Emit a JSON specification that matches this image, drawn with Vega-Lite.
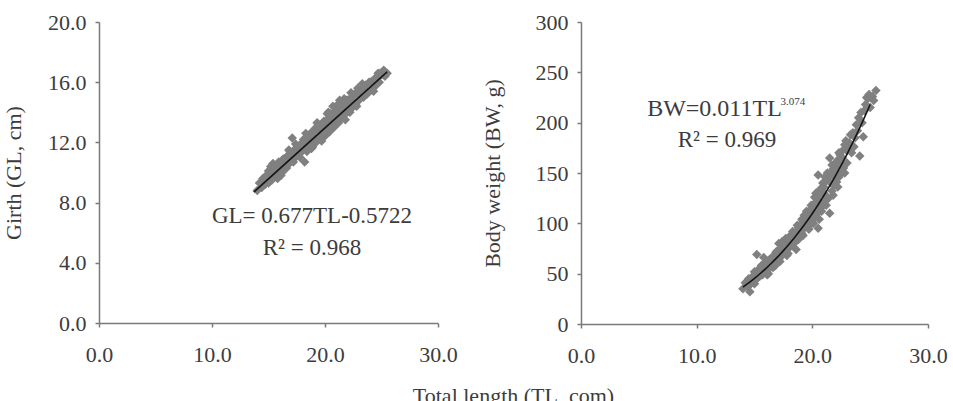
{
  "$schema": "https://vega.github.io/schema/vega-lite/v6.json",
  "autosize": {"type": "none"},
  "padding": {"left": 99, "top": 22, "right": 854, "bottom": 379},
  "background": "white",
  "bounds": "flush",
  "spacing": 143,
  "config": {
    "view": {"stroke": null},
    "font": "Liberation Serif",
    "axis": {
      "grid": false,
      "domainColor": "#7a7a7a",
      "domainWidth": 1.5,
      "tickColor": "#7a7a7a",
      "tickWidth": 1.5,
      "tickSize": 4,
      "labelColor": "#3c3c3c",
      "titleColor": "#3c3c3c",
      "labelFont": "Liberation Serif",
      "titleFont": "Liberation Serif",
      "labelFontSize": 22,
      "titleFontSize": 22,
      "titleFontWeight": "normal",
      "labelFlush": false,
      "labelOverlap": false
    },
    "text": {"font": "Liberation Serif", "color": "#3c3c3c"}
  },
  "datasets": {
    "fish": [
      {"TL": 14.0, "GL": 8.8, "BW": 35}, {"TL": 14.2, "GL": 9.3, "BW": 41}, {"TL": 14.4, "GL": 9.0, "BW": 37},
      {"TL": 14.5, "GL": 9.6, "BW": 45}, {"TL": 14.6, "GL": 9.5, "BW": 32}, {"TL": 14.7, "GL": 9.2, "BW": 40},
      {"TL": 14.8, "GL": 9.8, "BW": 47}, {"TL": 15.0, "GL": 10.1, "BW": 52}, {"TL": 15.0, "GL": 9.3, "BW": 40},
      {"TL": 15.1, "GL": 9.4, "BW": 44}, {"TL": 15.2, "GL": 10.0, "BW": 50}, {"TL": 15.2, "GL": 10.4, "BW": 69},
      {"TL": 15.3, "GL": 9.5, "BW": 46}, {"TL": 15.4, "GL": 10.3, "BW": 55}, {"TL": 15.4, "GL": 10.6, "BW": 52},
      {"TL": 15.5, "GL": 9.7, "BW": 48}, {"TL": 15.6, "GL": 10.2, "BW": 58}, {"TL": 15.6, "GL": 9.9, "BW": 54},
      {"TL": 15.7, "GL": 9.8, "BW": 49}, {"TL": 15.8, "GL": 10.5, "BW": 56}, {"TL": 15.8, "GL": 9.6, "BW": 66},
      {"TL": 15.9, "GL": 10.0, "BW": 52}, {"TL": 15.9, "GL": 10.7, "BW": 60}, {"TL": 16.0, "GL": 10.6, "BW": 62},
      {"TL": 16.0, "GL": 10.3, "BW": 57}, {"TL": 16.1, "GL": 10.1, "BW": 53}, {"TL": 16.1, "GL": 9.8, "BW": 49},
      {"TL": 16.2, "GL": 10.7, "BW": 60}, {"TL": 16.2, "GL": 10.0, "BW": 50}, {"TL": 16.3, "GL": 10.3, "BW": 56},
      {"TL": 16.3, "GL": 10.9, "BW": 64}, {"TL": 16.4, "GL": 10.9, "BW": 65}, {"TL": 16.4, "GL": 10.6, "BW": 62},
      {"TL": 16.5, "GL": 10.4, "BW": 58}, {"TL": 16.6, "GL": 11.0, "BW": 66}, {"TL": 16.6, "GL": 10.3, "BW": 56},
      {"TL": 16.7, "GL": 10.5, "BW": 61}, {"TL": 16.8, "GL": 11.2, "BW": 70}, {"TL": 16.8, "GL": 11.5, "BW": 58},
      {"TL": 16.9, "GL": 10.7, "BW": 63}, {"TL": 16.9, "GL": 11.4, "BW": 72}, {"TL": 17.0, "GL": 11.3, "BW": 72},
      {"TL": 17.0, "GL": 11.0, "BW": 68}, {"TL": 17.1, "GL": 10.8, "BW": 64}, {"TL": 17.1, "GL": 12.3, "BW": 80},
      {"TL": 17.2, "GL": 11.4, "BW": 74}, {"TL": 17.2, "GL": 10.7, "BW": 62}, {"TL": 17.3, "GL": 11.0, "BW": 67},
      {"TL": 17.4, "GL": 11.6, "BW": 76}, {"TL": 17.4, "GL": 11.9, "BW": 82}, {"TL": 17.5, "GL": 11.1, "BW": 70},
      {"TL": 17.5, "GL": 11.5, "BW": 75}, {"TL": 17.6, "GL": 11.7, "BW": 78}, {"TL": 17.7, "GL": 11.2, "BW": 72},
      {"TL": 17.7, "GL": 11.7, "BW": 85}, {"TL": 17.8, "GL": 11.8, "BW": 80}, {"TL": 17.8, "GL": 11.0, "BW": 68},
      {"TL": 17.9, "GL": 11.4, "BW": 75}, {"TL": 17.9, "GL": 11.9, "BW": 70}, {"TL": 18.0, "GL": 12.0, "BW": 84},
      {"TL": 18.0, "GL": 11.7, "BW": 82}, {"TL": 18.1, "GL": 11.5, "BW": 77}, {"TL": 18.1, "GL": 12.2, "BW": 88},
      {"TL": 18.2, "GL": 12.1, "BW": 86}, {"TL": 18.2, "GL": 10.7, "BW": 78}, {"TL": 18.3, "GL": 11.6, "BW": 80},
      {"TL": 18.3, "GL": 12.6, "BW": 92}, {"TL": 18.4, "GL": 12.2, "BW": 90}, {"TL": 18.4, "GL": 11.4, "BW": 80},
      {"TL": 18.5, "GL": 11.7, "BW": 82}, {"TL": 18.6, "GL": 12.4, "BW": 74}, {"TL": 18.6, "GL": 12.0, "BW": 88},
      {"TL": 18.7, "GL": 11.8, "BW": 93}, {"TL": 18.7, "GL": 12.6, "BW": 98}, {"TL": 18.8, "GL": 12.5, "BW": 96},
      {"TL": 18.8, "GL": 11.6, "BW": 84}, {"TL": 18.9, "GL": 12.0, "BW": 88}, {"TL": 18.9, "GL": 11.7, "BW": 95},
      {"TL": 19.0, "GL": 12.7, "BW": 99}, {"TL": 19.0, "GL": 12.4, "BW": 96}, {"TL": 19.1, "GL": 12.1, "BW": 90},
      {"TL": 19.1, "GL": 12.9, "BW": 104}, {"TL": 19.2, "GL": 12.8, "BW": 103}, {"TL": 19.2, "GL": 12.0, "BW": 88},
      {"TL": 19.3, "GL": 12.2, "BW": 95}, {"TL": 19.3, "GL": 13.3, "BW": 108}, {"TL": 19.4, "GL": 12.9, "BW": 106},
      {"TL": 19.4, "GL": 13.2, "BW": 98}, {"TL": 19.5, "GL": 12.4, "BW": 97}, {"TL": 19.5, "GL": 13.0, "BW": 112},
      {"TL": 19.6, "GL": 13.1, "BW": 110}, {"TL": 19.6, "GL": 12.8, "BW": 104}, {"TL": 19.7, "GL": 12.5, "BW": 100},
      {"TL": 19.7, "GL": 12.1, "BW": 94}, {"TL": 19.8, "GL": 13.2, "BW": 113}, {"TL": 19.8, "GL": 12.3, "BW": 98},
      {"TL": 19.9, "GL": 12.6, "BW": 103}, {"TL": 19.9, "GL": 13.4, "BW": 118}, {"TL": 20.0, "GL": 13.3, "BW": 117},
      {"TL": 20.0, "GL": 13.0, "BW": 112}, {"TL": 20.1, "GL": 12.8, "BW": 105}, {"TL": 20.1, "GL": 12.5, "BW": 100},
      {"TL": 20.2, "GL": 13.5, "BW": 120}, {"TL": 20.2, "GL": 13.9, "BW": 126}, {"TL": 20.3, "GL": 12.9, "BW": 108},
      {"TL": 20.3, "GL": 14.0, "BW": 130}, {"TL": 20.4, "GL": 13.6, "BW": 124}, {"TL": 20.4, "GL": 12.7, "BW": 110},
      {"TL": 20.5, "GL": 13.0, "BW": 95}, {"TL": 20.5, "GL": 13.9, "BW": 148}, {"TL": 20.6, "GL": 13.8, "BW": 128},
      {"TL": 20.6, "GL": 13.4, "BW": 121}, {"TL": 20.6, "GL": 13.0, "BW": 104}, {"TL": 20.7, "GL": 13.2, "BW": 115},
      {"TL": 20.7, "GL": 14.4, "BW": 134}, {"TL": 20.8, "GL": 13.9, "BW": 132}, {"TL": 20.8, "GL": 13.0, "BW": 112},
      {"TL": 20.9, "GL": 13.3, "BW": 119}, {"TL": 20.9, "GL": 14.0, "BW": 140}, {"TL": 21.0, "GL": 14.0, "BW": 136},
      {"TL": 21.0, "GL": 13.7, "BW": 130}, {"TL": 21.1, "GL": 13.4, "BW": 122}, {"TL": 21.1, "GL": 14.5, "BW": 146},
      {"TL": 21.2, "GL": 14.2, "BW": 142}, {"TL": 21.2, "GL": 13.3, "BW": 118}, {"TL": 21.3, "GL": 13.6, "BW": 126},
      {"TL": 21.3, "GL": 14.8, "BW": 150}, {"TL": 21.4, "GL": 14.3, "BW": 146}, {"TL": 21.4, "GL": 13.6, "BW": 125},
      {"TL": 21.5, "GL": 13.7, "BW": 110}, {"TL": 21.5, "GL": 14.3, "BW": 165}, {"TL": 21.6, "GL": 14.5, "BW": 150},
      {"TL": 21.6, "GL": 14.1, "BW": 140}, {"TL": 21.7, "GL": 13.8, "BW": 132}, {"TL": 21.7, "GL": 14.9, "BW": 158},
      {"TL": 21.8, "GL": 14.6, "BW": 154}, {"TL": 21.8, "GL": 13.5, "BW": 128}, {"TL": 21.9, "GL": 14.0, "BW": 138},
      {"TL": 21.9, "GL": 14.8, "BW": 146}, {"TL": 22.0, "GL": 14.8, "BW": 160}, {"TL": 22.0, "GL": 14.4, "BW": 152},
      {"TL": 22.1, "GL": 14.1, "BW": 141}, {"TL": 22.1, "GL": 14.7, "BW": 156}, {"TL": 22.2, "GL": 14.9, "BW": 163},
      {"TL": 22.2, "GL": 14.0, "BW": 136}, {"TL": 22.3, "GL": 14.3, "BW": 146}, {"TL": 22.3, "GL": 15.3, "BW": 170},
      {"TL": 22.4, "GL": 15.0, "BW": 168}, {"TL": 22.4, "GL": 14.3, "BW": 158}, {"TL": 22.5, "GL": 14.4, "BW": 150},
      {"TL": 22.6, "GL": 15.2, "BW": 172}, {"TL": 22.6, "GL": 14.6, "BW": 165}, {"TL": 22.7, "GL": 14.5, "BW": 155},
      {"TL": 22.8, "GL": 15.3, "BW": 178}, {"TL": 22.8, "GL": 14.4, "BW": 150}, {"TL": 22.9, "GL": 15.6, "BW": 182},
      {"TL": 23.0, "GL": 14.8, "BW": 160}, {"TL": 23.0, "GL": 15.2, "BW": 172}, {"TL": 23.1, "GL": 14.9, "BW": 175},
      {"TL": 23.2, "GL": 15.5, "BW": 180}, {"TL": 23.3, "GL": 15.9, "BW": 188}, {"TL": 23.4, "GL": 15.0, "BW": 170},
      {"TL": 23.5, "GL": 15.6, "BW": 190}, {"TL": 23.6, "GL": 15.8, "BW": 176}, {"TL": 23.7, "GL": 15.2, "BW": 185},
      {"TL": 23.8, "GL": 15.3, "BW": 198}, {"TL": 23.9, "GL": 16.0, "BW": 192}, {"TL": 24.0, "GL": 16.0, "BW": 205},
      {"TL": 24.1, "GL": 15.5, "BW": 167}, {"TL": 24.2, "GL": 16.1, "BW": 210}, {"TL": 24.3, "GL": 15.4, "BW": 200},
      {"TL": 24.4, "GL": 15.7, "BW": 186}, {"TL": 24.5, "GL": 16.2, "BW": 212}, {"TL": 24.6, "GL": 16.4, "BW": 218},
      {"TL": 24.7, "GL": 16.6, "BW": 225}, {"TL": 24.8, "GL": 16.0, "BW": 224}, {"TL": 24.9, "GL": 16.6, "BW": 228},
      {"TL": 25.0, "GL": 16.5, "BW": 215}, {"TL": 25.2, "GL": 16.8, "BW": 226}, {"TL": 25.3, "GL": 16.4, "BW": 222},
      {"TL": 25.5, "GL": 16.6, "BW": 232}
    ],
    "linear_fit": [
      {"TL": 13.7, "GL": 8.70},
      {"TL": 25.5, "GL": 16.69}
    ],
    "power_fit": [
      {"TL": 14.0, "BW": 36.70}, {"TL": 14.5, "BW": 40.87}, {"TL": 15.0, "BW": 45.36},
      {"TL": 15.5, "BW": 50.17}, {"TL": 16.0, "BW": 55.32}, {"TL": 16.5, "BW": 60.80},
      {"TL": 17.0, "BW": 66.65}, {"TL": 17.5, "BW": 72.86}, {"TL": 18.0, "BW": 79.45},
      {"TL": 18.5, "BW": 86.43}, {"TL": 19.0, "BW": 93.82}, {"TL": 19.5, "BW": 101.62},
      {"TL": 20.0, "BW": 109.84}, {"TL": 20.5, "BW": 118.50}, {"TL": 21.0, "BW": 127.62},
      {"TL": 21.5, "BW": 137.19}, {"TL": 22.0, "BW": 147.23}, {"TL": 22.5, "BW": 157.76},
      {"TL": 23.0, "BW": 168.79}, {"TL": 23.5, "BW": 180.33}, {"TL": 24.0, "BW": 192.39},
      {"TL": 24.5, "BW": 204.97}, {"TL": 25.0, "BW": 218.10}
    ]
  },
  "hconcat": [
    {
      "width": 339,
      "height": 301,
      "layer": [
        {
          "data": {"name": "fish"},
          "mark": {"type": "point", "shape": "diamond", "filled": true, "size": 90, "color": "#808080", "opacity": 1},
          "encoding": {
            "x": {
              "field": "TL", "type": "quantitative",
              "scale": {"domain": [0, 30], "nice": false},
              "axis": {
                "values": [0, 10, 20, 30], "format": ".1f", "labelPadding": 17,
                "title": "Total length (TL, com)", "titleX": 414, "titleY": 62,
                "titleBaseline": "top", "titleAnchor": "middle", "titleAlign": "center"
              }
            },
            "y": {
              "field": "GL", "type": "quantitative",
              "scale": {"domain": [0, 20], "nice": false},
              "axis": {
                "values": [0, 4, 8, 12, 16, 20], "format": ".1f", "labelPadding": 9,
                "title": "Girth (GL, cm)", "titleX": -86, "titleBaseline": "middle"
              }
            }
          }
        },
        {
          "data": {"name": "linear_fit"},
          "mark": {"type": "line", "color": "#151515", "strokeWidth": 1.6},
          "encoding": {
            "x": {"field": "TL", "type": "quantitative"},
            "y": {"field": "GL", "type": "quantitative"}
          }
        },
        {
          "data": {"values": [{}]},
          "mark": {"type": "text", "text": "GL= 0.677TL-0.5722", "fontSize": 23, "align": "center", "baseline": "middle"},
          "encoding": {
            "x": {"datum": 18.85, "type": "quantitative"},
            "y": {"datum": 7.08, "type": "quantitative"}
          }
        },
        {
          "data": {"values": [{}]},
          "mark": {"type": "text", "text": "R² = 0.968", "fontSize": 23, "align": "center", "baseline": "middle"},
          "encoding": {
            "x": {"datum": 18.85, "type": "quantitative"},
            "y": {"datum": 4.98, "type": "quantitative"}
          }
        }
      ]
    },
    {
      "width": 347,
      "height": 302,
      "layer": [
        {
          "data": {"name": "fish"},
          "mark": {"type": "point", "shape": "diamond", "filled": true, "size": 90, "color": "#808080", "opacity": 1},
          "encoding": {
            "x": {
              "field": "TL", "type": "quantitative",
              "scale": {"domain": [0, 30], "nice": false},
              "axis": {"values": [0, 10, 20, 30], "format": ".1f", "labelPadding": 17, "title": null}
            },
            "y": {
              "field": "BW", "type": "quantitative",
              "scale": {"domain": [0, 300], "nice": false},
              "axis": {
                "values": [0, 50, 100, 150, 200, 250, 300], "format": "d", "labelPadding": 9,
                "title": "Body weight (BW, g)", "titleX": -89, "titleBaseline": "middle"
              }
            }
          }
        },
        {
          "data": {"name": "power_fit"},
          "mark": {"type": "line", "color": "#151515", "strokeWidth": 1.6, "interpolate": "monotone"},
          "encoding": {
            "x": {"field": "TL", "type": "quantitative"},
            "y": {"field": "BW", "type": "quantitative"}
          }
        },
        {
          "data": {"values": [{}]},
          "mark": {"type": "text", "text": "BW=0.011TL", "fontSize": 24, "align": "center", "baseline": "middle"},
          "encoding": {
            "x": {"datum": 11.54, "type": "quantitative"},
            "y": {"datum": 214, "type": "quantitative"}
          }
        },
        {
          "data": {"values": [{}]},
          "mark": {"type": "text", "text": "3.074", "fontSize": 11, "align": "left", "baseline": "middle"},
          "encoding": {
            "x": {"datum": 17.25, "type": "quantitative"},
            "y": {"datum": 221, "type": "quantitative"}
          }
        },
        {
          "data": {"values": [{}]},
          "mark": {"type": "text", "text": "R² = 0.969", "fontSize": 23, "align": "center", "baseline": "middle"},
          "encoding": {
            "x": {"datum": 12.62, "type": "quantitative"},
            "y": {"datum": 182.3, "type": "quantitative"}
          }
        }
      ]
    }
  ]
}
